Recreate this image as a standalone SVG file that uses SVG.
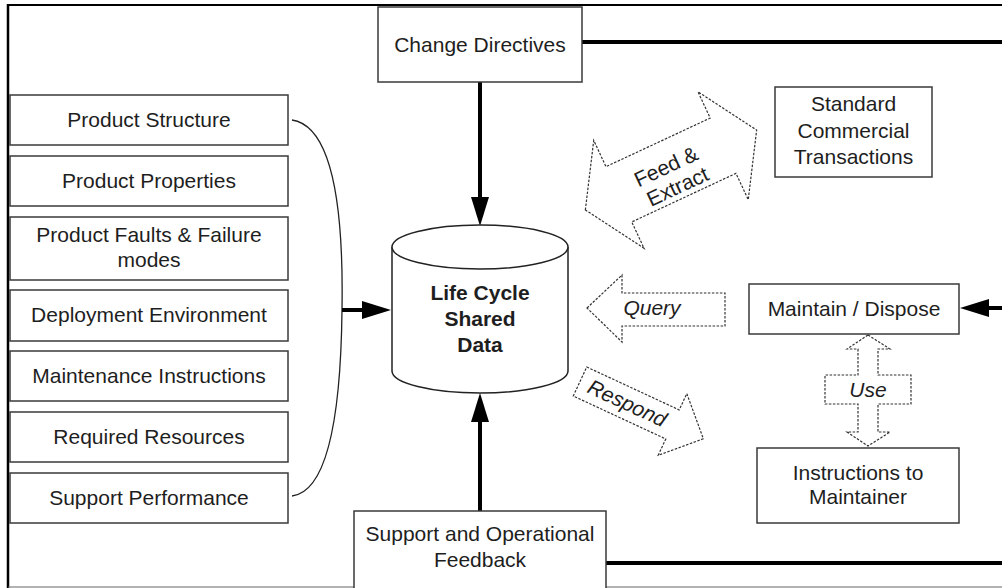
<svg xmlns="http://www.w3.org/2000/svg" width="1002" height="588" viewBox="0 0 1002 588">
<style>
.box{fill:#fff;stroke:#3a3a3a;stroke-width:1.5}
.t{font-family:"Liberation Sans",Arial,sans-serif;font-size:21px;fill:#1e1e1e;text-anchor:middle}
.b{font-weight:bold}
.i{font-style:italic}
.dash{fill:#fff;stroke:#333;stroke-width:1.2;stroke-dasharray:2.5 1.5}
.thick{stroke:#000;stroke-width:4;fill:none}
.head{fill:#000}
</style>
<rect width="1002" height="588" fill="#fff"/>
<g id="frame">
<line x1="8" y1="5" x2="1002" y2="5" stroke="#000" stroke-width="2"/>
<line x1="8" y1="4" x2="8" y2="588" stroke="#000" stroke-width="2.5"/>
<line x1="8" y1="587" x2="1002" y2="587" stroke="#666" stroke-width="1.2"/>
</g>
<g id="connectors">
<line class="thick" x1="582" y1="42" x2="1002" y2="42"/>
<line class="thick" x1="606" y1="563" x2="1002" y2="563"/>
<line class="thick" x1="480" y1="82" x2="480" y2="200"/>
<polygon class="head" points="480,226 471,197 489,197"/>
<line class="thick" x1="480" y1="511" x2="480" y2="420"/>
<polygon class="head" points="480,393 471,422 489,422"/>
<path d="M292,120 Q345,128 342,310 Q340,490 292,496" fill="none" stroke="#222" stroke-width="1.3"/>
<line class="thick" x1="342" y1="310" x2="366" y2="310"/>
<polygon class="head" points="391,310 362,301 362,319"/>
<line class="thick" x1="1002" y1="308" x2="985" y2="308"/>
<polygon class="head" points="960,308 989,299 989,317"/>
</g>
<g id="feed-extract">
<g transform="translate(671,170) rotate(-25)">
<polygon class="dash" points="-94.5,0 -57.5,-59.5 -57.5,-30.5 57.5,-30.5 57.5,-59.5 94.5,0 57.5,59.5 57.5,30.5 -57.5,30.5 -57.5,59.5"/>
<text class="t" x="-3" y="2">Feed &amp;</text>
<text class="t" x="-1" y="25">Extract</text>
</g>
</g>
<g id="query">
<polygon class="dash" points="587,308 622,275 622,293 725,293 725,326 622,326 622,342"/>
<text class="t i" x="652" y="315">Query</text>
</g>
<g id="respond">
<g transform="translate(580,381.5) rotate(24.9)">
<polygon class="dash" points="0,-16 102,-16 102,-34 136,0 102,34 102,16 0,16"/>
<text class="t i" x="52" y="7">Respond</text>
</g>
</g>
<g id="use">
<polygon class="dash" points="868,335 890,349 878,349 878,375 911,375 911,404 878,404 878,432 890,432 868,446 847,432 858,432 858,404 825,404 825,375 858,375 858,349 847,349"/>
<text class="t i" x="868" y="397">Use</text>
</g>
<g id="change-directives">
<rect class="box" x="378" y="7" width="204" height="75"/>
<text class="t" x="480" y="52">Change Directives</text>
</g>
<g id="standard-commercial">
<rect class="box" x="775" y="87" width="157" height="90"/>
<text class="t" x="853.5" y="111">Standard</text>
<text class="t" x="853.5" y="138">Commercial</text>
<text class="t" x="853.5" y="164">Transactions</text>
</g>
<g id="life-cycle-data">
<path d="M392,247 L392,371 A88,22 0 0 0 568,371 L568,247" fill="#fff" stroke="#222" stroke-width="1.5"/>
<ellipse cx="480" cy="247" rx="88" ry="22" fill="#fff" stroke="#222" stroke-width="1.5"/>
<text class="t b" x="480" y="300">Life Cycle</text>
<text class="t b" x="480" y="326">Shared</text>
<text class="t b" x="480" y="352">Data</text>
</g>
<g id="maintain-dispose">
<rect class="box" x="749" y="284" width="210" height="50"/>
<text class="t" x="854" y="316">Maintain / Dispose</text>
</g>
<g id="instructions">
<rect class="box" x="757" y="448" width="202" height="75"/>
<text class="t" x="858" y="480">Instructions to</text>
<text class="t" x="858" y="504">Maintainer</text>
</g>
<g id="support-feedback">
<rect class="box" x="354" y="511" width="252" height="78"/>
<text class="t" x="480" y="541">Support and Operational</text>
<text class="t" x="480" y="567">Feedback</text>
</g>
<g id="product-structure"><rect class="box" x="10" y="95" width="278" height="50"/><text class="t" x="149" y="127">Product Structure</text></g>
<g id="product-properties"><rect class="box" x="10" y="156" width="278" height="50"/><text class="t" x="149" y="188">Product Properties</text></g>
<g id="product-faults"><rect class="box" x="10" y="217" width="278" height="63"/><text class="t" x="149" y="242">Product Faults &amp; Failure</text><text class="t" x="149" y="267">modes</text></g>
<g id="deployment-environment"><rect class="box" x="10" y="290" width="278" height="51"/><text class="t" x="149" y="322">Deployment Environment</text></g>
<g id="maintenance-instructions"><rect class="box" x="10" y="351" width="278" height="50"/><text class="t" x="149" y="383">Maintenance Instructions</text></g>
<g id="required-resources"><rect class="box" x="10" y="412" width="278" height="50"/><text class="t" x="149" y="444">Required Resources</text></g>
<g id="support-performance"><rect class="box" x="10" y="473" width="278" height="50"/><text class="t" x="149" y="505">Support Performance</text></g>
</svg>
